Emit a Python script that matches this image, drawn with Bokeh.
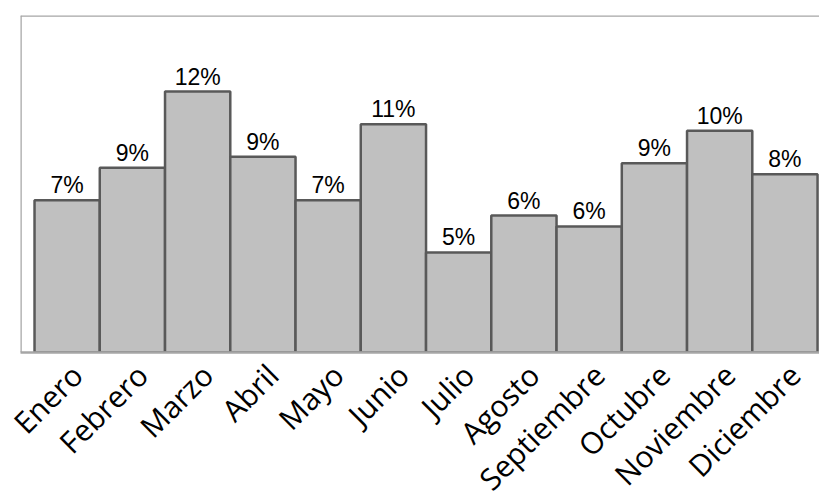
import math

from bokeh.core.properties import value
from bokeh.embed import file_html
from bokeh.models import ColumnDataSource, FixedTicker, LinearAxis, Range1d, Span
from bokeh.plotting import figure
from bokeh.resources import INLINE

# Monthly share of the yearly total, in percent
months = ["Enero", "Febrero", "Marzo", "Abril", "Mayo", "Junio",
          "Julio", "Agosto", "Septiembre", "Octubre", "Noviembre", "Diciembre"]
shares = [7.0, 8.5, 12.0, 9.0, 7.0, 10.5, 4.6, 6.3, 5.8, 8.7, 10.2, 8.2]

positions = list(range(len(months)))
labels = [f"{int(v + 0.5)}%" for v in shares]

source = ColumnDataSource(data=dict(x=positions, share=shares, label=labels))

FRAME = "#a6a6a6"
X0, X1 = -0.715, 11.53
LABEL_SHIFT = 0.15  # slanted names sit a little right of the bar centre

p = figure(
    width=819, height=499,
    frame_width=799, frame_height=337,
    min_border_left=20, min_border_right=0, min_border_top=15, min_border_bottom=0,
    x_range=Range1d(X0, X1), y_range=Range1d(0, 15.5),
    x_axis_location=None, y_axis_location=None,
    output_backend="svg", toolbar_location=None,
)
p.outline_line_color = None
p.grid.visible = False
p.background_fill_color = "white"
p.border_fill_color = "white"

# frame: top and left edges (bottom edge is the x axis line)
p.add_layout(Span(location=15.5, dimension="width", line_color=FRAME, line_width=2.5))
p.add_layout(Span(location=X0, dimension="height", line_color=FRAME, line_width=2.5))

p.vbar(x="x", top="share", bottom=0, width=1.0, source=source,
       fill_color="#c0c0c0", line_color="#595959", line_width=2.5)

p.text(x="x", y="share", text="label", source=source,
       text_align="center", text_baseline="bottom", y_offset=-2,
       text_font=value("Liberation Sans"), text_font_size="23px", text_color="black")

# month axis, on a range nudged so the slanted names end just right of each bar centre
p.extra_x_ranges = {"names": Range1d(X0 - LABEL_SHIFT, X1 - LABEL_SHIFT)}
ax = LinearAxis(x_range_name="names")
ax.ticker = FixedTicker(ticks=positions)
ax.major_label_overrides = {i: m for i, m in zip(positions, months)}
ax.major_label_orientation = math.pi / 4
ax.major_label_text_font = "Open Sans"
ax.major_label_text_font_size = "30px"
ax.major_label_text_color = "black"
ax.major_label_standoff = 11
ax.major_tick_line_color = None
ax.minor_tick_line_color = None
ax.axis_line_color = FRAME
ax.axis_line_width = 2.5
p.add_layout(ax, "below")

open("out.html", "w").write(file_html(p, INLINE))
